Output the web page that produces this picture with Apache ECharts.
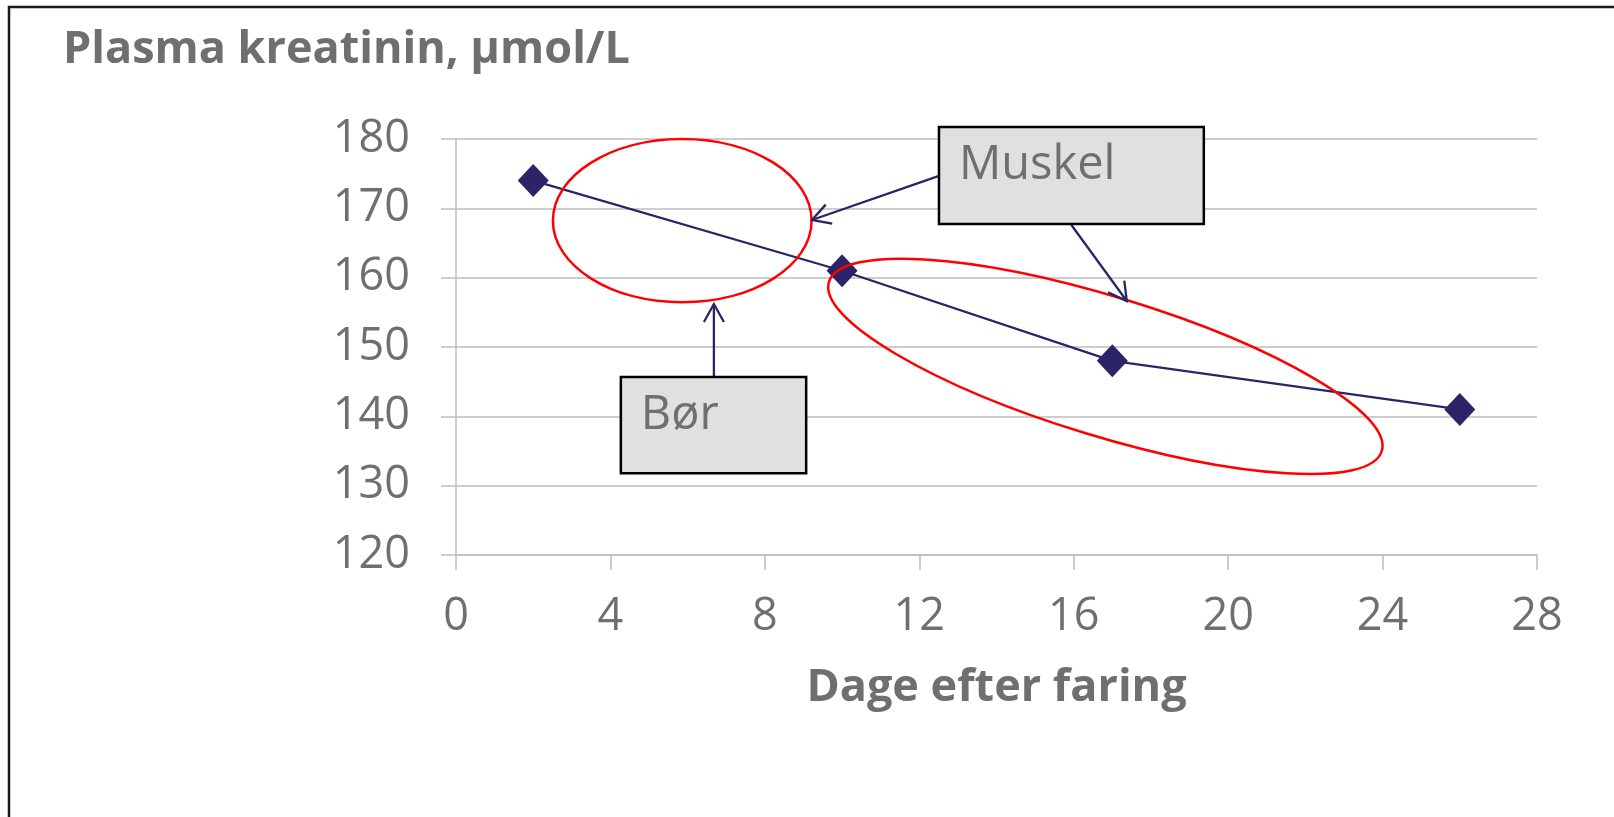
<!DOCTYPE html>
<html><head><meta charset="utf-8">
<script src="https://cdn.jsdelivr.net/npm/echarts/dist/echarts.min.js"></script>
<style>html,body{margin:0;padding:0;background:#fff}#c{width:1614px;height:817px}</style>
</head><body><div id="c"></div>
<script>
// ---- data ----
const days = [2, 10, 17, 26];
const kreatinin = [174, 161, 148, 141];
const xRange = [0, 28, 4];      // min, max, interval
const yRange = [120, 180, 10];  // min, max, interval
const titleText = 'Plasma kreatinin, µmol/L';
const xAxisName = 'Dage efter faring';
// annotations, anchored in data coordinates (days, µmol/L)
const boxBor = { label: 'Bør', x0: 4.27, y0: 145.67, x1: 9.07, y1: 131.8 };
const boxMuskel = { label: 'Muskel', x0: 12.51, y0: 181.73, x1: 19.37, y1: 167.74 };
const ellipseBor = { x0: 2.51, x1: 9.21, y0: 156.45, y1: 180.0 };
const ellipseMuskel = { cx: 16.82, cy: 147.2, ex: 23.98, ey: 135.0, ratio: 0.241 };
const arrows = [
  [6.68, 145.72, 6.68, 156.2],
  [12.53, 174.71, 9.22, 168.32],
  [15.94, 167.6, 17.375, 156.63]
];

// ---- styles ----
const FONT = '"Open Sans", "Noto Sans", sans-serif';
const GRAY_TEXT = '#6f6f6f';
const NAVY = '#2b2468';
const GRID = '#bdbdbd';

const chart = echarts.init(document.getElementById('c'), null, { renderer: 'canvas' });
chart.setOption({
  animation: false,
  backgroundColor: '#ffffff',
  title: {
    text: titleText, left: 63, top: 28, padding: 0,
    textStyle: { fontFamily: FONT, fontWeight: 'bold', fontSize: 45, color: GRAY_TEXT }
  },
  grid: { left: 456, right: 77, top: 139, bottom: 262 },
  xAxis: {
    type: 'value', min: xRange[0], max: xRange[1], interval: xRange[2],
    name: xAxisName, nameLocation: 'middle', nameGap: 111,
    nameTextStyle: { fontFamily: FONT, fontWeight: 'bold', fontSize: 45, color: GRAY_TEXT },
    axisLine: { show: true, onZero: false, lineStyle: { color: GRID, width: 1.5 } },
    axisTick: { show: true, length: 15, lineStyle: { color: GRID, width: 1.5 } },
    axisLabel: { margin: 40, fontFamily: FONT, fontSize: 45, color: GRAY_TEXT },
    splitLine: { show: false }
  },
  yAxis: {
    type: 'value', min: yRange[0], max: yRange[1], interval: yRange[2],
    axisLine: { show: true, lineStyle: { color: GRID, width: 1.5 } },
    axisTick: { show: true, length: 15, lineStyle: { color: GRID, width: 1.5 } },
    axisLabel: { margin: 46, fontFamily: FONT, fontSize: 45, color: GRAY_TEXT },
    splitLine: { show: true, lineStyle: { color: GRID, width: 1.5 } }
  },
  series: [{
    type: 'line',
    data: days.map((d, i) => [d, kreatinin[i]]),
    symbol: 'diamond', symbolSize: [31, 33],
    lineStyle: { color: NAVY, width: 2.3 },
    itemStyle: { color: NAVY },
    z: 5
  }]
});

function px(x, y) { return chart.convertToPixel({ gridIndex: 0 }, [x, y]); }

function buildGraphics() {
  const g = [];
  // outer frame
  g.push({ type: 'rect', shape: { x: 9, y: 7, width: 1700, height: 900 },
    style: { fill: 'none', stroke: '#1a1a1a', lineWidth: 2.5 }, z: 200, silent: true });
  // ellipse Bør
  const a0 = px(ellipseBor.x0, ellipseBor.y1), a1 = px(ellipseBor.x1, ellipseBor.y0);
  g.push({ type: 'ellipse', shape: { cx: (a0[0] + a1[0]) / 2, cy: (a0[1] + a1[1]) / 2,
    rx: (a1[0] - a0[0]) / 2, ry: (a1[1] - a0[1]) / 2 },
    style: { fill: 'none', stroke: '#ff0000', lineWidth: 2.5 }, z: 50 });
  // ellipse Muskel (rotated)
  const c = px(ellipseMuskel.cx, ellipseMuskel.cy), e = px(ellipseMuskel.ex, ellipseMuskel.ey);
  const ra = Math.hypot(e[0] - c[0], e[1] - c[1]);
  const ang = Math.atan2(e[1] - c[1], e[0] - c[0]);
  g.push({ type: 'ellipse', x: c[0], y: c[1], rotation: -ang,
    shape: { cx: 0, cy: 0, rx: ra, ry: ra * ellipseMuskel.ratio },
    style: { fill: 'none', stroke: '#ff0000', lineWidth: 2.5 }, z: 50 });
  // arrows
  arrows.forEach(a => {
    const s = px(a[0], a[1]), t = px(a[2], a[3]);
    const L = Math.hypot(t[0] - s[0], t[1] - s[1]);
    const ux = (t[0] - s[0]) / L, uy = (t[1] - s[1]) / L;
    const hl = 18, hw = 10;
    const w1 = [t[0] - hl * ux + hw * -uy, t[1] - hl * uy + hw * ux];
    const w2 = [t[0] - hl * ux - hw * -uy, t[1] - hl * uy - hw * ux];
    g.push({ type: 'line', shape: { x1: s[0], y1: s[1], x2: t[0], y2: t[1] },
      style: { stroke: NAVY, lineWidth: 2.3 }, z: 60 });
    g.push({ type: 'polyline', shape: { points: [w1, t, w2] },
      style: { stroke: NAVY, lineWidth: 2.3, fill: 'none' }, z: 60 });
  });
  // boxes
  [boxBor, boxMuskel].forEach(b => {
    const p0 = px(b.x0, b.y0), p1 = px(b.x1, b.y1);
    g.push({ type: 'rect', shape: { x: p0[0], y: p0[1], width: p1[0] - p0[0], height: p1[1] - p0[1] },
      style: { fill: '#e0e0e0', stroke: '#000000', lineWidth: 2.5 }, z: 100 });
    g.push({ type: 'text', x: p0[0] + 20, y: p0[1] + 39, z: 101,
      style: { text: b.label, fontFamily: FONT, fontSize: 47, fill: GRAY_TEXT,
        align: 'left', verticalAlign: 'middle' } });
  });
  return g;
}
chart.setOption({ graphic: buildGraphics() });
</script>
</body></html>
